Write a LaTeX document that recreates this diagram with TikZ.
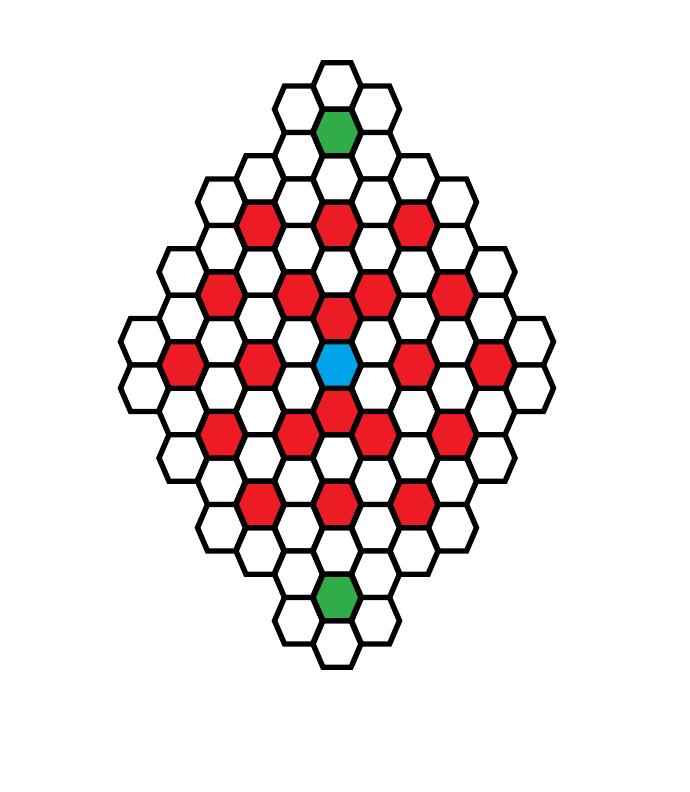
\documentclass[tikz,border=0pt]{standalone}
\usepackage{tikz}
\usetikzlibrary{calc}

\definecolor{cellred}{RGB}{237,28,36}
\definecolor{cellgreen}{RGB}{48,172,72}
\definecolor{cellblue}{RGB}{0,162,232}

\tikzset{hexline/.style={draw=black, line width=5.4pt, line join=miter}}

% one cell: column, half step, fill colour
\newcommand{\hexcell}[3]{%
  \path[hexline, fill=#3, shift={({#1*38.5},{#2*23.25})}]
    (-24,0) -- (-14,-23.25) -- (14,-23.25) -- (24,0)
    -- (14,23.25) -- (-14,23.25) -- cycle;}

\begin{document}
\begin{tikzpicture}[x=1pt,y=-1pt]
\useasboundingbox (0,0) rectangle (690,792);
\begin{scope}[shift={(337,365)}]
% white board
\foreach \c/\m in {-5/1,-4/4,-3/7,-2/8,-1/11,0/12,1/11,2/8,3/7,4/4,5/1}{
  \foreach \k in {0,...,\m}{
    \pgfmathtruncatemacro{\h}{2*\k-\m}
    \hexcell{\c}{\h}{white}
  }
}
% red cells
\foreach \c/\h in {-2/-6,0/-6,2/-6,-3/-3,-1/-3,1/-3,3/-3,0/-2,
                   -4/0,-2/0,2/0,4/0,0/2,-3/3,-1/3,1/3,3/3,-2/6,0/6,2/6}{
  \hexcell{\c}{\h}{cellred}
}
% green and blue
\hexcell{0}{-10}{cellgreen}
\hexcell{0}{10}{cellgreen}
\hexcell{0}{0}{cellblue}
\end{scope}
\end{tikzpicture}
\end{document}
